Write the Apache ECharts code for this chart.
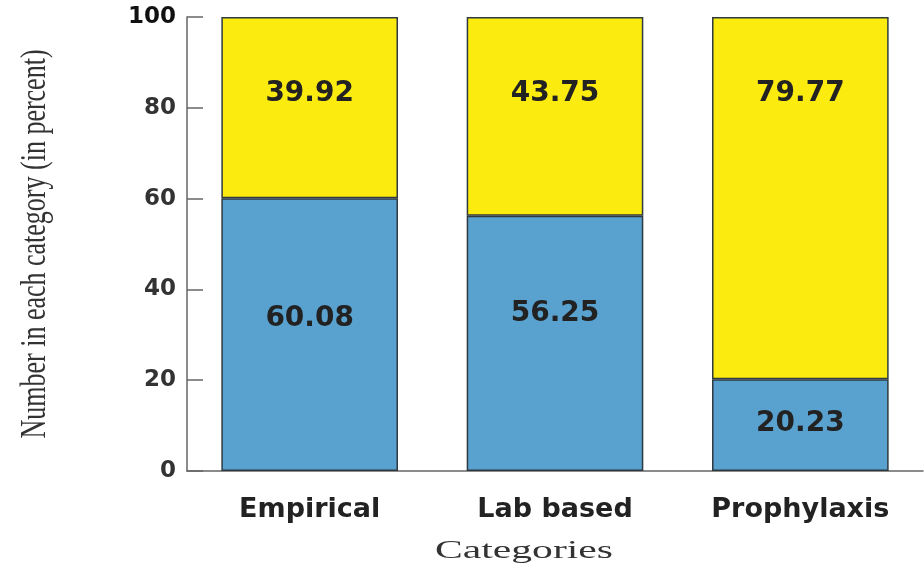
<!DOCTYPE html>
<html>
<head>
<meta charset="utf-8">
<script src="https://cdn.jsdelivr.net/npm/echarts@6/dist/echarts.min.js"></script>
<style>
html, body { margin: 0; padding: 0; background: #fff; }
#main { width: 924px; height: 569px; }
</style>
</head>
<body>
<div id="main"></div>
<script>
var categories = ['Empirical', 'Lab based', 'Prophylaxis'];
var lowerValues = [60.08, 56.25, 20.23];
var upperValues = [39.92, 43.75, 79.77];
var yTicks = [0, 20, 40, 60, 80, 100];
var xTitle = 'Categories';
var yTitle = 'Number in each category (in percent)';

// the blue labels sit a bit off-centre in the original
var lowerLabelNudge = [-16, -30, -1];

var labelFont = {
    fontFamily: 'DejaVu Sans',
    fontWeight: 'bold',
    fontSize: 28,
    color: '#222'
};

var lowerData = lowerValues.map(function (v, i) {
    return { value: v, label: { offset: [0, lowerLabelNudge[i]] } };
});

var myChart = echarts.init(document.getElementById('main'));
option = {
    backgroundColor: '#fff',
    animation: false,
    grid: {
        left: 187,
        right: 1,
        top: 17,
        bottom: 98
    },
    graphic: [
        {
            type: 'text',
            x: 524,
            y: 551,
            scaleX: 1.6,
            style: {
                text: xTitle,
                font: '26px "Liberation Serif"',
                fill: '#333',
                align: 'center',
                verticalAlign: 'middle'
            }
        },
        {
            type: 'text',
            x: 35,
            y: 244,
            rotation: Math.PI / 2,
            scaleY: 1.4,
            style: {
                text: yTitle,
                font: '26px "Liberation Serif"',
                fill: '#333',
                align: 'center',
                verticalAlign: 'middle'
            }
        }
    ],
    xAxis: {
        type: 'category',
        data: categories,
        axisLine: { lineStyle: { color: '#666', width: 1.5 } },
        axisTick: { inside: true, length: 12, lineStyle: { color: '#666', width: 1.5 } },
        axisLabel: {
            margin: 25,
            fontFamily: 'DejaVu Sans',
            fontWeight: 'bold',
            fontSize: 27,
            color: '#222'
        }
    },
    yAxis: {
        type: 'value',
        min: 0,
        max: 100,
        interval: 20,
        splitLine: { show: false },
        axisLine: { show: true, lineStyle: { color: '#666', width: 1.5 } },
        axisTick: { show: true, inside: true, length: 16, lineStyle: { color: '#666', width: 1.5 } },
        axisLabel: {
            margin: 11,
            fontFamily: 'DejaVu Sans',
            fontWeight: 'bold',
            fontSize: 23,
            color: '#333',
            formatter: function (v) {
                if (yTicks.indexOf(v) < 0) return '';
                return v === 100 ? '{top|' + v + '}' : String(v);
            },
            rich: {
                top: { fontFamily: 'DejaVu Sans', fontWeight: 'bold', fontSize: 23, color: '#111' }
            }
        }
    },
    series: [
        {
            name: 'lower',
            type: 'bar',
            stack: 'total',
            barWidth: '72%',
            data: lowerData,
            itemStyle: { color: '#59A1CF', borderColor: '#2f3a40', borderWidth: 1.5 },
            label: Object.assign({
                show: true,
                position: 'inside',
                formatter: function (p) { return p.value.toFixed(2); }
            }, labelFont)
        },
        {
            name: 'upper',
            type: 'bar',
            stack: 'total',
            barWidth: '72%',
            data: upperValues,
            itemStyle: { color: '#FCEB0E', borderColor: '#2f3a40', borderWidth: 1.5 },
            label: Object.assign({
                show: true,
                position: 'insideTop',
                distance: 63,
                formatter: function (p) { return p.value.toFixed(2); }
            }, labelFont)
        }
    ]
};
myChart.setOption(option);
</script>
</body>
</html>
